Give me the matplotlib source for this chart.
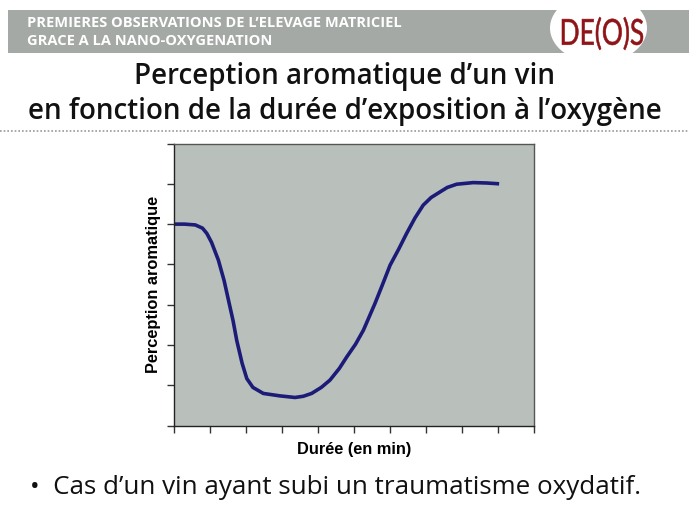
import matplotlib
matplotlib.use("Agg")
import matplotlib.pyplot as plt
from matplotlib.patches import Rectangle, Ellipse, PathPatch
from matplotlib.textpath import TextPath
from matplotlib.font_manager import FontProperties
from matplotlib.transforms import Affine2D

# Données (unités arbitraires)
duree = [0, 0.3, 0.6, 0.8, 0.92, 1.05, 1.24, 1.4, 1.52, 1.65, 1.75, 1.9, 2.03, 2.2,
         2.49, 2.95, 3.37, 3.6, 3.83, 4.1, 4.34, 4.6, 4.81, 5.05, 5.27, 5.59, 5.8,
         6.01, 6.25, 6.47, 6.7, 6.93, 7.15, 7.4, 7.6, 7.86, 8.32, 8.7, 9.04]
perception = [5.0, 5.0, 4.98, 4.9, 4.77, 4.55, 4.11, 3.6, 3.12, 2.6, 2.12, 1.55, 1.17, 0.95,
              0.80, 0.74, 0.70, 0.73, 0.80, 0.95, 1.13, 1.42, 1.71, 2.02, 2.37, 3.03, 3.5,
              3.98, 4.38, 4.77, 5.15, 5.47, 5.66, 5.80, 5.91, 5.99, 6.03, 6.02, 6.0]

titre_entete = ["PREMIERES OBSERVATIONS DE L\u2019ELEVAGE MATRICIEL",
                "GRACE A LA NANO-OXYGENATION"]
logo = "DE(O)S"
titre = "Perception aromatique d\u2019un vin\nen fonction de la dur\u00e9e d\u2019exposition \u00e0 l\u2019oxyg\u00e8ne"
puce = "\u2022  Cas d\u2019un vin ayant subi un traumatisme oxydatif."

W, H = 689, 517
fig = plt.figure(figsize=(W / 100, H / 100), dpi=100)
fig.patch.set_facecolor("white")

# bandeau gris en haut
fig.patches.append(Rectangle((8 / W, 1 - 53 / H), 1, 43 / H, transform=fig.transFigure,
                             facecolor="#a4a9a6", edgecolor="none"))
fig.patches.append(Ellipse((598.5 / W, 1 - 28 / H), 97 / W, 70 / H, transform=fig.transFigure,
                           facecolor="white", edgecolor="none"))
fig.text(27 / W, 1 - 23 / H, titre_entete[0], color="white", fontsize=10.5,
         fontweight="bold", family="Open Sans", va="center")
fig.text(27 / W, 1 - 41 / H, titre_entete[1], color="white", fontsize=10.5,
         fontweight="bold", family="Open Sans", va="center")

# logo étroit : texte converti en tracé puis comprimé dans sa boîte
tp = TextPath((0, 0), logo, size=10, prop=FontProperties(family="Lato", weight="normal"))
ext = tp.get_extents()
x0, x1, y0, y1 = 562 / W, 643 / W, 1 - 50 / H, 1 - 17 / H
tr = (Affine2D().translate(-ext.x0, -ext.y0)
      .scale((x1 - x0) / ext.width, (y1 - y0) / ext.height)
      .translate(x0, y0))
fig.patches.append(PathPatch(tr.transform_path(tp), transform=fig.transFigure,
                             facecolor="#8e1418", edgecolor="#8e1418", lw=0.4))

fig.text(0.5, 1 - 94 / H, titre, ha="center", va="center", fontsize=20,
         family="Open Sans", fontweight="semibold", linespacing=1.25, color="#111111")
fig.lines.append(plt.Line2D([0, 1], [1 - 131 / H] * 2, transform=fig.transFigure,
                            color="#999999", lw=1.2, ls=(0, (1, 1.2))))

ax = fig.add_axes([173.7 / W, 91.3 / H, 360 / W, 282.2 / H])
ax.set_facecolor("#b9c0bc")
ax.plot(duree, perception, color="#1c1c78", lw=2.6, solid_capstyle="butt")
ax.set_xlim(0, 10)
ax.set_ylim(0, 7)
ax.set_xticks(range(0, 11))
ax.set_yticks(range(0, 8))
ax.set_xticklabels([])
ax.set_yticklabels([])
ax.tick_params(direction="out", length=5, width=1, color="#333333")
for s in ax.spines.values():
    s.set_color("#555555")
    s.set_linewidth(1)
ax.spines["left"].set_color("#222222")
ax.spines["bottom"].set_color("#222222")
ax.set_xlabel("Dur\u00e9e (en min)", fontsize=11.8, fontweight="bold",
              family="Liberation Sans", labelpad=3)
ax.set_ylabel("Perception aromatique", fontsize=11.8, fontweight="bold",
              family="Liberation Sans", labelpad=0.5)

fig.text(30 / W, 1 - 488 / H, puce, fontsize=18.7, family="Open Sans",
         va="center", color="#111111")

fig.savefig("out.png", dpi=100)
